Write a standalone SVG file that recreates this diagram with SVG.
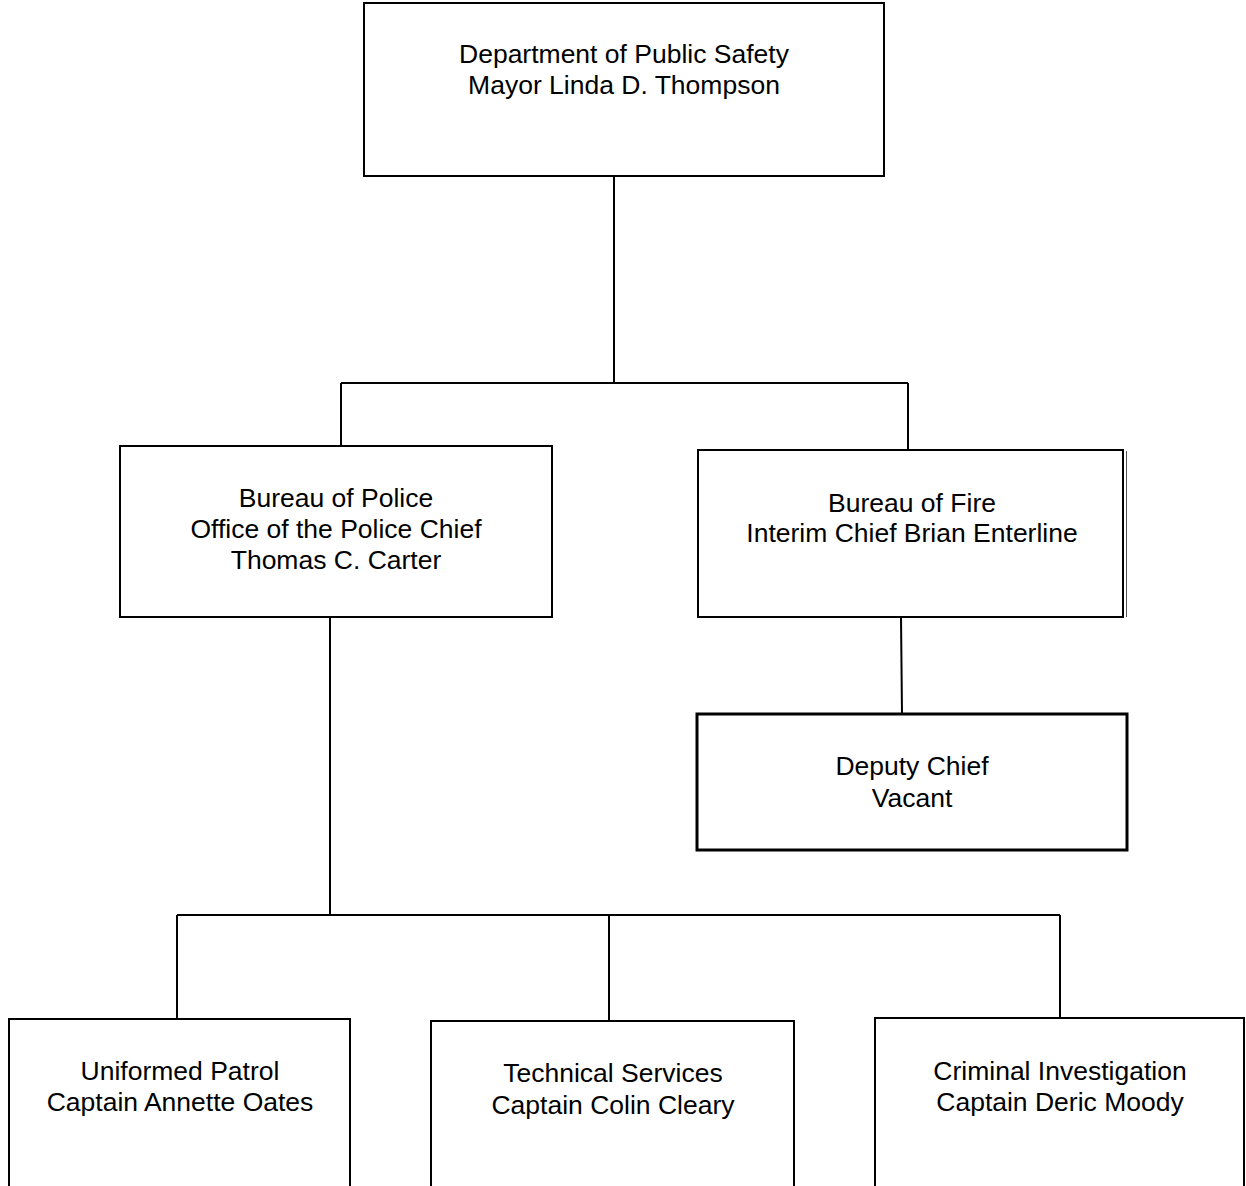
<svg xmlns="http://www.w3.org/2000/svg" width="1246" height="1186" viewBox="0 0 1246 1186">
  <style>
    .box { fill: #ffffff; stroke: #000000; stroke-width: 2; }
    .box-heavy { fill: #ffffff; stroke: #000000; stroke-width: 3; }
    .wire { fill: none; stroke: #000000; stroke-width: 2; }
    .edge-thin { fill: none; stroke: #555555; stroke-width: 1; }
    .label { font-family: "Liberation Sans", Arial, sans-serif; font-size: 26.5px; fill: #000000; text-anchor: middle; }
  </style>
  <rect width="1246" height="1186" fill="#ffffff"/>

  <!-- connectors -->
  <g id="connectors">
    <path class="wire" d="M614 176 V383"/>
    <path class="wire" d="M341 383 H908"/>
    <path class="wire" d="M341 383 V446"/>
    <path class="wire" d="M908 383 V450"/>
    <path class="wire" d="M901 617 L902 714"/>
    <path class="wire" d="M330 617 V915"/>
    <path class="wire" d="M177 915 H1060"/>
    <path class="wire" d="M177 915 V1019"/>
    <path class="wire" d="M609 915 V1021"/>
    <path class="wire" d="M1060 915 V1018"/>
  </g>

  <g id="public-safety">
    <rect class="box" x="364" y="3" width="520" height="173"/>
    <text class="label" x="624" y="63">Department of Public Safety</text>
    <text class="label" x="624" y="94">Mayor Linda D. Thompson</text>
  </g>

  <g id="police">
    <rect class="box" x="120" y="446" width="432" height="171"/>
    <text class="label" x="336" y="507">Bureau of Police</text>
    <text class="label" x="336" y="538">Office of the Police Chief</text>
    <text class="label" x="336" y="569">Thomas C. Carter</text>
  </g>

  <g id="fire">
    <rect class="box" x="698" y="450" width="425" height="167"/>
    <!-- doubled right edge -->
    <path class="edge-thin" d="M1126.5 451 V617"/>
    <text class="label" x="912" y="512">Bureau of Fire</text>
    <text class="label" x="912" y="542">Interim Chief Brian Enterline</text>
  </g>

  <g id="deputy-chief">
    <rect class="box-heavy" x="697" y="714" width="430" height="136"/>
    <text class="label" x="912" y="775">Deputy Chief</text>
    <text class="label" x="912" y="807">Vacant</text>
  </g>

  <g id="uniformed-patrol">
    <rect class="box" x="9" y="1019" width="341" height="180"/>
    <text class="label" x="180" y="1080">Uniformed Patrol</text>
    <text class="label" x="180" y="1111">Captain Annette Oates</text>
  </g>

  <g id="technical-services">
    <rect class="box" x="431" y="1021" width="363" height="180"/>
    <text class="label" x="613" y="1082">Technical Services</text>
    <text class="label" x="613" y="1114">Captain Colin Cleary</text>
  </g>

  <g id="criminal-investigation">
    <rect class="box" x="875" y="1018" width="369" height="180"/>
    <text class="label" x="1060" y="1080">Criminal Investigation</text>
    <text class="label" x="1060" y="1111">Captain Deric Moody</text>
  </g>
</svg>
